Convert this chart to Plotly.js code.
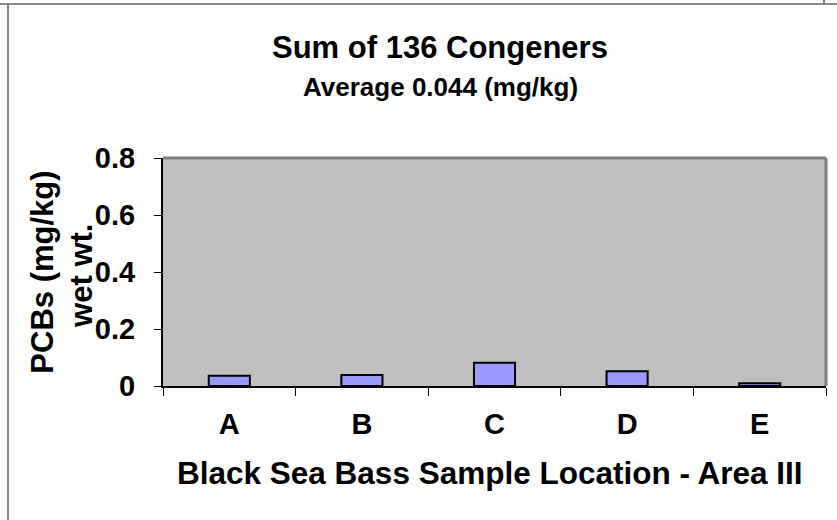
<!DOCTYPE html>
<html>
<head>
<meta charset="utf-8">
<script src="https://cdn.plot.ly/plotly-3.0.1.min.js"></script>
<style>html,body{margin:0;padding:0;background:#fff;}#chart{width:837px;height:520px;}</style>
</head>
<body>
<div id="chart"></div>
<script>
// Data
const locations = ["A", "B", "C", "D", "E"];
const pcbValues = [0.036, 0.039, 0.082, 0.052, 0.010];
const yTickValues = [0, 0.2, 0.4, 0.6, 0.8];
const yTickLabels = ["0", "0.2", "0.4", "0.6", "0.8"];
const chartTitle = "Sum of 136 Congeners";
const chartSubtitle = "Average 0.044 (mg/kg)";
const xTitle = "Black Sea Bass Sample Location - Area III";
const yTitleLine1 = "PCBs (mg/kg)";
const yTitleLine2 = "wet wt.";

const FONT = "Liberation Sans, Arial, Helvetica, sans-serif";
const bold = (size) => ({family: FONT, size: size, color: "#000", weight: "bold"});

const trace = {
  type: "bar",
  x: locations,
  y: pcbValues,
  marker: {color: "#9999ff", line: {color: "#000", width: 2}},
  hoverinfo: "x+y"
};

const layout = {
  width: 837,
  height: 520,
  margin: {l: 163, r: 11, t: 158, b: 134, pad: 0},
  paper_bgcolor: "#ffffff",
  plot_bgcolor: "#c0c0c0",
  showlegend: false,
  bargap: 0.69,
  xaxis: {
    type: "category",
    tickson: "boundaries",
    ticks: "outside",
    ticklen: 8,
    tickwidth: 1,
    tickcolor: "#000",
    showline: true,
    linecolor: "#000",
    linewidth: 2,
    showgrid: false,
    tickfont: bold(29),
    ticklabelstandoff: 11,
    fixedrange: true
  },
  yaxis: {
    range: [0, 0.8],
    tickvals: yTickValues,
    ticktext: yTickLabels,
    ticks: "outside",
    ticklen: 7,
    tickwidth: 1,
    tickcolor: "#000",
    showline: true,
    linecolor: "#000",
    linewidth: 2,
    showgrid: false,
    zeroline: false,
    tickfont: bold(29),
    ticklabelstandoff: 13,
    fixedrange: true
  },
  shapes: [
    {type: "line", xref: "paper", yref: "paper", x0: 0, x1: 1, y0: 1, y1: 1, line: {color: "#808080", width: 3}},
    {type: "line", xref: "paper", yref: "paper", x0: 1, x1: 1, y0: 0, y1: 1, line: {color: "#808080", width: 3}},
    {type: "line", xref: "paper", yref: "paper", x0: -0.2459, x1: 1.0166, y0: 1.6754, y1: 1.6754, line: {color: "#888", width: 2}},
    {type: "line", xref: "paper", yref: "paper", x0: -0.2338, x1: -0.2338, y0: 1.6754, y1: -0.59, line: {color: "#888", width: 2}},
    {type: "line", xref: "paper", yref: "paper", x0: 0.997, x1: 0.997, y0: 1.6754, y1: 1.693, line: {color: "#888", width: 2}}
  ],
  annotations: [
    {text: chartTitle, xref: "paper", yref: "paper", x: 0.4178, y: 1.4825, xanchor: "center", yanchor: "middle", showarrow: false, font: bold(31)},
    {text: chartSubtitle, xref: "paper", yref: "paper", x: 0.419, y: 1.311, xanchor: "center", yanchor: "middle", showarrow: false, font: bold(26)},
    {text: xTitle, xref: "paper", yref: "paper", x: 0.4932, y: -0.3816, xanchor: "center", yanchor: "middle", showarrow: false, font: bold(31.5)},
    {text: yTitleLine1, xref: "paper", yref: "paper", x: -0.183, y: 0.5, xanchor: "center", yanchor: "middle", textangle: -90, showarrow: false, font: bold(31)},
    {text: yTitleLine2, xref: "paper", yref: "paper", x: -0.124, y: 0.482, xanchor: "center", yanchor: "middle", textangle: -90, showarrow: false, font: bold(31)}
  ]
};

Plotly.newPlot("chart", [trace], layout, {displayModeBar: false, staticPlot: true});
</script>
</body>
</html>
